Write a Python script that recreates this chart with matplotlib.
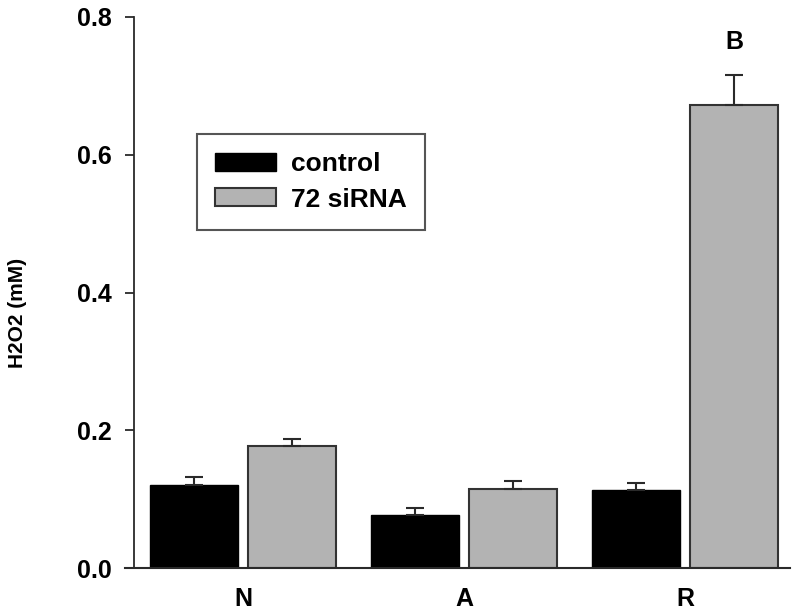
import matplotlib
matplotlib.use("Agg")
import matplotlib.pyplot as plt
import numpy as np

plt.rcParams['font.family'] = ['Liberation Sans', 'DejaVu Sans']
plt.rcParams['font.weight'] = 'bold'

categories = ["N", "A", "R"]
control = [0.120, 0.077, 0.113]
control_err = [0.0115, 0.0105, 0.0098]
sirna = [0.177, 0.114, 0.672]
sirna_err = [0.0098, 0.013, 0.044]
series_labels = ["control", "72 siRNA"]
yticks = [0.0, 0.2, 0.4, 0.6, 0.8]
ytick_labels = ["0.0", "0.2", "0.4", "0.6", "0.8"]
annotation = "B"

fig = plt.figure(figsize=(8, 6.15), dpi=100)
ax = fig.add_axes([125/800, 1-568/615, 665/800, (568-17)/615])

x = np.arange(len(categories))
w = 0.398
off = 0.222
ecol = '#2a2a2a'
ekw = dict(ecolor=ecol, elinewidth=1.5, capsize=6.2, capthick=1.5)
ax.bar(x - off, control, w, color='black', edgecolor='black', linewidth=1.0,
       yerr=[np.zeros(3), control_err], error_kw=ekw, label=series_labels[0], zorder=2)
ax.bar(x + off, sirna, w, color='#b3b3b3', edgecolor='#333333', linewidth=1.5,
       yerr=[np.zeros(3), sirna_err], error_kw=ekw, label=series_labels[1], zorder=2)

ax.text(x[2] + off, sirna[2] + sirna_err[2] + 0.031, annotation, ha='center', va='bottom',
        fontsize=18, fontweight='bold')

for s in ['top', 'right']:
    ax.spines[s].set_visible(False)
ax.spines['left'].set_position(('axes', 9/665))
ax.spines['left'].set_color(ecol)
ax.spines['left'].set_linewidth(1.3)
ax.spines['bottom'].set_color(ecol)
ax.spines['bottom'].set_linewidth(1.5)

ax.set_xlim(-0.534, 2.475)
ax.set_ylim(0, 0.8)
ax.set_yticks(yticks)
ax.set_yticklabels(ytick_labels)
ax.set_xticks(x)
ax.set_xticklabels(categories)
ax.tick_params(axis='x', length=0, pad=14, labelsize=18)
ax.tick_params(axis='y', length=6.5, width=1.3, color=ecol, pad=9.5, labelsize=18)
for lab in ax.get_xticklabels() + ax.get_yticklabels():
    lab.set_fontweight('bold')

ax.set_ylabel("H2O2 (mM)", fontsize=15, fontweight='bold')
ax.yaxis.set_label_coords(-(125-27)/665, (568-313)/551)

leg = ax.legend(loc='upper left', bbox_to_anchor=(197/800, 1-134/615),
                bbox_transform=fig.transFigure, borderaxespad=0, fancybox=False,
                edgecolor=ecol, handlelength=2.3, handleheight=0.65,
                handletextpad=0.55, labelspacing=0.42, borderpad=0.7,
                prop={'weight': 'bold', 'size': 19})
leg.get_frame().set_linewidth(1.5)

fig.savefig("out.png", dpi=100)
